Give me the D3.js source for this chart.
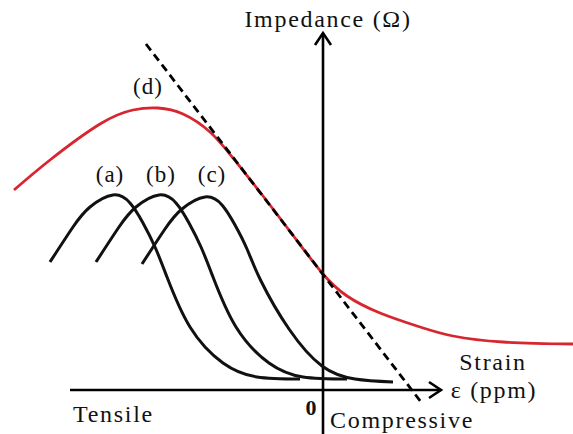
<!DOCTYPE html>
<html>
<head>
<meta charset="utf-8">
<script src="https://cdn.jsdelivr.net/npm/d3@7"></script>
<style>
  html, body { margin: 0; padding: 0; background: #fff; }
  svg { display: block; }
  svg text { font-family: "Liberation Serif", "DejaVu Serif", serif; }
</style>
</head>
<body>
<svg id="chart" width="573" height="434"></svg>
<script>
// Strain (arbitrary units, 0 = unstrained) vs impedance (arbitrary units)
const curveA = [[-27.3,12.8],[-25.0,16.3],[-23.3,18.3],[-21.0,19.5],[-19.3,18.7],[-18.0,16.7],[-16.8,14.3],[-15.6,11.3],[-13.3,6.3],[-10.0,2.7],[-6.6,1.3],[-2.3,1.1]];
const curveB = [[-22.7,12.8],[-20.4,16.3],[-18.7,18.3],[-16.4,19.5],[-14.7,18.7],[-13.4,16.7],[-12.2,14.3],[-11.0,11.3],[-8.7,6.3],[-5.4,2.7],[-2.0,1.3],[2.4,1.1]];
const curveC = [[-18.1,12.6],[-15.8,16.1],[-14.1,18.1],[-11.8,19.3],[-10.1,18.5],[-8.8,16.5],[-7.6,14.1],[-6.2,10.9],[-3.4,6.1],[-0.1,2.4],[3.2,1.1],[7.0,0.8]];
const curveD = [[-30.9,20.0],[-27.3,23.0],[-22.3,26.6],[-19.0,28.0],[-16.5,28.2],[-14.0,27.6],[-11.3,25.8],[-9.0,23.2],[-6.0,19.4],[-2.8,15.2],[0,11.6],[2.4,9.4],[5.7,7.7],[9.7,6.3],[13.0,5.4],[18.0,4.8],[25.0,4.6]];
const tangentLine = [[-17.7,34.6],[9.8,-1.2]];

// label text and anchor positions in data units
const curveLabels = ["(a)", "(b)", "(c)", "(d)"];
const labelPos = [[-21.3,20.8],[-16.2,20.8],[-11.1,20.8],[-17.5,29.6]];

const xAxisRange = [-25.3, 11.8];
const yAxisRange = [-4.6, 35.7];

const svg = d3.select("#chart");
const x = d3.scaleLinear().domain([-32.3, 25]).range([0, 573]);
const y = d3.scaleLinear().domain([0, 39]).range([390, 0]);

const line = d3.line().x(d => x(d[0])).y(d => y(d[1])).curve(d3.curveNatural);

// axes
svg.append("line")
  .attr("x1", x(xAxisRange[0])).attr("x2", x(xAxisRange[1]))
  .attr("y1", y(0)).attr("y2", y(0))
  .attr("stroke", "#000").attr("stroke-width", 2.6);
svg.append("line")
  .attr("x1", x(0)).attr("x2", x(0))
  .attr("y1", y(yAxisRange[0])).attr("y2", y(yAxisRange[1]))
  .attr("stroke", "#000").attr("stroke-width", 2.6);

// open arrowheads
const xt = [x(xAxisRange[1]), y(0)];
svg.append("path")
  .attr("d", `M${xt[0]-12},${xt[1]-8} L${xt[0]},${xt[1]} L${xt[0]-12},${xt[1]+8}`)
  .attr("fill", "none").attr("stroke", "#000").attr("stroke-width", 2.6);
const yt = [x(0), y(yAxisRange[1])];
svg.append("path")
  .attr("d", `M${yt[0]-8},${yt[1]+12} L${yt[0]},${yt[1]} L${yt[0]+8},${yt[1]+12}`)
  .attr("fill", "none").attr("stroke", "#000").attr("stroke-width", 2.6);

// shifted response curves
[curveA, curveB, curveC].forEach(c => {
  svg.append("path").attr("d", line(c))
    .attr("fill", "none").attr("stroke", "#111").attr("stroke-width", 3);
});

// envelope curve
svg.append("path").attr("d", line(curveD))
  .attr("fill", "none").attr("stroke", "#d7262f").attr("stroke-width", 2.8);

// linear tangent
svg.append("path").attr("d", d3.line().x(d => x(d[0])).y(d => y(d[1]))(tangentLine))
  .attr("fill", "none").attr("stroke", "#000").attr("stroke-width", 2.8)
  .attr("stroke-dasharray", "8,5");

// curve labels
curveLabels.forEach((t, i) => {
  svg.append("text").attr("x", x(labelPos[i][0])).attr("y", y(labelPos[i][1]))
    .attr("text-anchor", "middle").attr("font-size", 23).attr("letter-spacing", 1)
    .attr("fill", "#111").text(t);
});

// axis titles
const titles = [
  {t: "Impedance (Ω)", px: 328, py: 27, a: "middle"},
  {t: "Strain", px: 493, py: 370, a: "middle"},
  {t: "ε (ppm)", px: 494, py: 398, a: "middle"},
  {t: "Tensile", px: 73, py: 422, a: "start"},
  {t: "Compressive", px: 330, py: 428, a: "start"}
];
titles.forEach(d => {
  svg.append("text").attr("x", d.px).attr("y", d.py)
    .attr("text-anchor", d.a).attr("font-size", 24).attr("letter-spacing", 1.7)
    .attr("fill", "#111").text(d.t);
});
svg.append("text").attr("x", 311).attr("y", 415)
  .attr("text-anchor", "middle").attr("font-size", 22).attr("font-weight", "bold")
  .attr("fill", "#111").text("0");
</script>
</body>
</html>
